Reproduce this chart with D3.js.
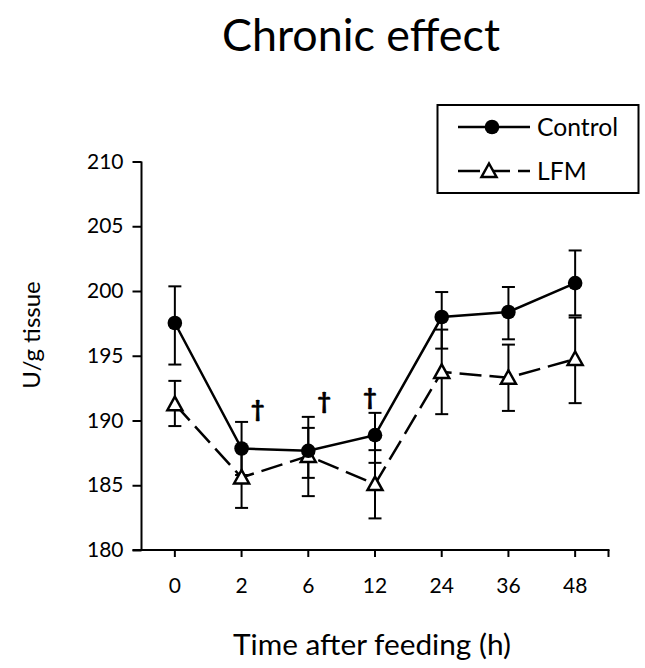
<!DOCTYPE html>
<html><head><meta charset="utf-8">
<script src="https://cdn.jsdelivr.net/npm/d3@7"></script>
<style>body{margin:0;background:#fff} svg{display:block}</style>
</head><body><svg id="c" width="645" height="668"></svg>
<script>
// ---- data ----
const categories = ["0", "2", "6", "12", "24", "36", "48"];
const controlMean    = [197.53, 187.84, 187.66, 188.87, 197.99, 198.38, 200.61];
const controlErrUp   = [2.83, 2.05, 2.62, 1.72, 1.93, 1.93, 2.52];
const controlErrDown = [3.21, 2.05, 2.09, 2.14, 2.44, 2.11, 2.49];
const lfmMean    = [191.26, 185.60, 187.26, 185.09, 193.75, 193.30, 194.75];
const lfmErrUp   = [1.80, 2.35, 2.17, 2.62, 3.27, 2.56, 3.20];
const lfmErrDown = [1.69, 2.35, 3.10, 2.65, 3.26, 2.56, 3.41];
const yTicks = [180, 185, 190, 195, 200, 205, 210];
const daggerCategories = ["2", "6", "12"];
const seriesNames = ["Control", "LFM"];
const titleText = "Chronic effect";
const xLabel = "Time after feeding (h)";
const yLabel = "U/g tissue";

// ---- drawing ----
const FONT = "Lato, 'Open Sans', 'DejaVu Sans', sans-serif";
const svg = d3.select("#c");
const x = d3.scaleBand().domain(categories).range([141.5, 608.5]).padding(0);
const y = d3.scaleLinear().domain([180, 210]).range([550, 161.5]);
const cx = c => x(c) + x.bandwidth() / 2;

function fitText(sel, targetW) {
  const n = sel.node();
  const w = n.getComputedTextLength();
  const fs = parseFloat(sel.attr("font-size"));
  sel.attr("font-size", (fs * targetW / w).toFixed(2));
}

// title
fitText(svg.append("text").attr("x", 361).attr("y", 51).attr("text-anchor", "middle")
  .attr("font-family", FONT).attr("font-size", 40).attr("fill", "#000").text(titleText), 278);

// y axis
const yAxis = d3.axisLeft(y).tickValues(yTicks).tickSize(9).tickPadding(9).tickFormat(d3.format("d"));
const gy = svg.append("g").attr("transform", "translate(141.5,0)").call(yAxis);
gy.select(".domain").attr("stroke", "#000").attr("stroke-width", 2).attr("d", "M0,161.5V550");
gy.selectAll(".tick line").attr("stroke", "#000").attr("stroke-width", 2);
gy.selectAll(".tick text").attr("font-family", FONT).attr("font-size", 21).attr("fill", "#000");

// x axis
const xAxis = d3.axisBottom(x).tickSize(7).tickPadding(21);
const gx = svg.append("g").attr("transform", "translate(0,550)").call(xAxis);
gx.select(".domain").attr("stroke", "#000").attr("stroke-width", 2).attr("d", "M132.5,0H609.5");
gx.selectAll(".tick line").attr("stroke", "#000").attr("stroke-width", 2);
gx.selectAll(".tick text").attr("font-family", FONT).attr("font-size", 21).attr("fill", "#000");
gx.append("line").attr("x1", 608.5).attr("x2", 608.5).attr("y1", 0).attr("y2", 7)
  .attr("stroke", "#000").attr("stroke-width", 2);

// axis labels
fitText(svg.append("text").attr("x", 372).attr("y", 655).attr("text-anchor", "middle")
  .attr("font-family", FONT).attr("font-size", 26).attr("fill", "#000").text(xLabel), 278);
svg.append("text").attr("transform", "translate(40,335) rotate(-90)").attr("text-anchor", "middle")
  .attr("font-family", FONT).attr("font-size", 24).attr("fill", "#000").text(yLabel);

const ctrl = categories.map((c, i) => ({c, m: controlMean[i], up: controlErrUp[i], dn: controlErrDown[i]}));
const lfm = categories.map((c, i) => ({c, m: lfmMean[i], up: lfmErrUp[i], dn: lfmErrDown[i]}));

function errorBars(data) {
  const g = svg.append("g").attr("stroke", "#000").attr("stroke-width", 2).attr("fill", "none");
  data.forEach(d => {
    const X = cx(d.c), t = y(d.m + d.up), b = y(d.m - d.dn);
    g.append("line").attr("x1", X).attr("x2", X).attr("y1", t).attr("y2", b);
    g.append("line").attr("x1", X - 6.5).attr("x2", X + 6.5).attr("y1", t).attr("y2", t);
    g.append("line").attr("x1", X - 6.5).attr("x2", X + 6.5).attr("y1", b).attr("y2", b);
  });
}
const line = d3.line().x(d => cx(d.c)).y(d => y(d.m));
const triPath = "M0,-7.5L7.5,6L-7.5,6Z";

errorBars(lfm);
errorBars(ctrl);
svg.append("path").datum(lfm).attr("d", line).attr("fill", "none").attr("stroke", "#000")
  .attr("stroke-width", 2.5).attr("stroke-dasharray", "22,8");
svg.append("path").datum(ctrl).attr("d", line).attr("fill", "none").attr("stroke", "#000")
  .attr("stroke-width", 2.5);
svg.append("g").selectAll("path").data(lfm).join("path")
  .attr("transform", d => `translate(${cx(d.c)},${y(d.m)})`).attr("d", triPath)
  .attr("fill", "#fff").attr("stroke", "#000").attr("stroke-width", 2.5);
svg.append("g").selectAll("circle").data(ctrl).join("circle")
  .attr("cx", d => cx(d.c)).attr("cy", d => y(d.m)).attr("r", 7.3).attr("fill", "#000");

// significance daggers
const daggerDx = [16, 16, -5];
const daggerDy = [-5, -8, -8];
daggerCategories.forEach((c, k) => {
  const i = categories.indexOf(c);
  svg.append("text").attr("x", cx(c) + daggerDx[k]).attr("y", y(controlMean[i] + controlErrUp[i]) + daggerDy[k])
    .attr("text-anchor", "middle").attr("font-family", FONT).attr("font-size", 23)
    .attr("font-weight", "bold").attr("fill", "#000").attr("stroke", "#000").attr("stroke-width", 0.7)
    .text("\u2020");
});

// legend
const lg = svg.append("g");
lg.append("rect").attr("x", 437.5).attr("y", 105).attr("width", 201).attr("height", 88)
  .attr("fill", "#fff").attr("stroke", "#000").attr("stroke-width", 2);
lg.append("line").attr("x1", 458).attr("x2", 530).attr("y1", 127).attr("y2", 127)
  .attr("stroke", "#000").attr("stroke-width", 2.5);
lg.append("circle").attr("cx", 492).attr("cy", 127).attr("r", 7.3).attr("fill", "#000");
lg.append("line").attr("x1", 458).attr("x2", 530).attr("y1", 171).attr("y2", 171)
  .attr("stroke", "#000").attr("stroke-width", 2.5).attr("stroke-dasharray", "22,8");
lg.append("path").attr("transform", "translate(489,171)").attr("d", triPath)
  .attr("fill", "#fff").attr("stroke", "#000").attr("stroke-width", 2.5);
const lt1 = lg.append("text").attr("x", 537).attr("y", 127).attr("dy", "0.35em")
  .attr("font-family", FONT).attr("font-size", 22).attr("fill", "#000").text(seriesNames[0]);
fitText(lt1, 81);
const lt2 = lg.append("text").attr("x", 537).attr("y", 171).attr("dy", "0.35em")
  .attr("font-family", FONT).attr("font-size", 22).attr("fill", "#000").text(seriesNames[1]);
lt2.attr("font-size", lt1.attr("font-size"));
</script></body></html>
